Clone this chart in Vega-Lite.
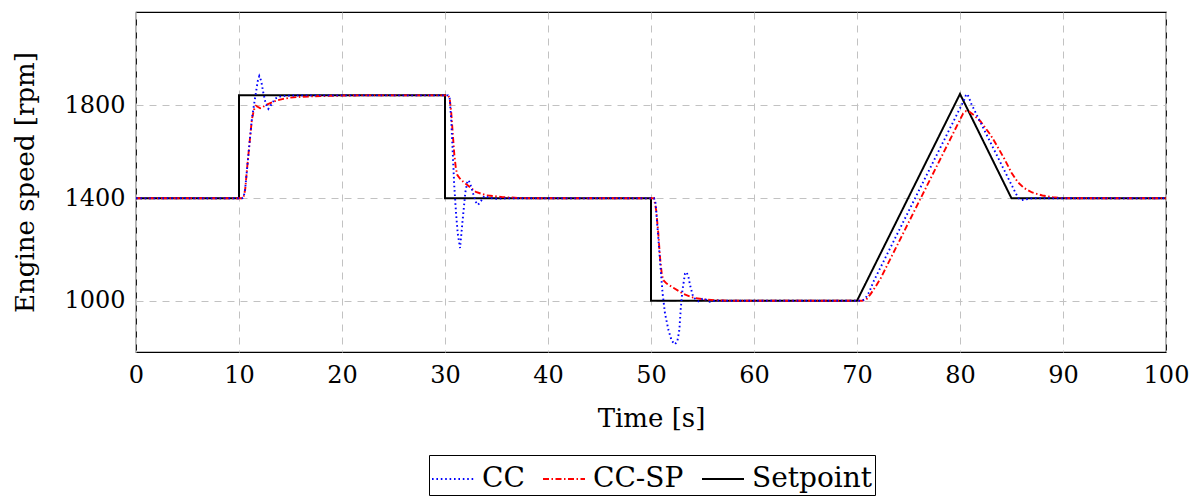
{
  "$schema": "https://vega.github.io/schema/vega-lite/v6.json",
  "width": 1030,
  "height": 340,
  "autosize": {"type": "none"},
  "padding": {"left": 136, "top": 12, "right": 30, "bottom": 146},
  "background": "white",
  "data": {"values": [
    {"s":"Setpoint","i":0,"t":0,"v":1400},{"s":"Setpoint","i":1,"t":10,"v":1400},{"s":"Setpoint","i":2,"t":10,"v":1842},{"s":"Setpoint","i":3,"t":30,"v":1842},{"s":"Setpoint","i":4,"t":30,"v":1400},{"s":"Setpoint","i":5,"t":50,"v":1400},{"s":"Setpoint","i":6,"t":50,"v":1000},{"s":"Setpoint","i":7,"t":70,"v":1000},{"s":"Setpoint","i":8,"t":80,"v":1848},{"s":"Setpoint","i":9,"t":85,"v":1400},{"s":"Setpoint","i":10,"t":100,"v":1400},

    {"s":"CC","i":0,"t":0,"v":1400},{"s":"CC","i":1,"t":10.3,"v":1400},{"s":"CC","i":2,"t":10.45,"v":1405},{"s":"CC","i":3,"t":10.6,"v":1440},{"s":"CC","i":4,"t":10.8,"v":1535},{"s":"CC","i":5,"t":11.05,"v":1650},{"s":"CC","i":6,"t":11.25,"v":1740},{"s":"CC","i":7,"t":11.45,"v":1800},{"s":"CC","i":8,"t":11.65,"v":1855},{"s":"CC","i":9,"t":11.8,"v":1900},{"s":"CC","i":10,"t":11.97,"v":1925},{"s":"CC","i":11,"t":12.15,"v":1905},{"s":"CC","i":12,"t":12.35,"v":1856},{"s":"CC","i":13,"t":12.6,"v":1805},{"s":"CC","i":14,"t":12.85,"v":1784},{"s":"CC","i":15,"t":13.1,"v":1800},{"s":"CC","i":16,"t":13.5,"v":1828},{"s":"CC","i":17,"t":14.1,"v":1839},{"s":"CC","i":18,"t":15,"v":1841},{"s":"CC","i":19,"t":16,"v":1842},
    {"s":"CC","i":20,"t":30.3,"v":1842},{"s":"CC","i":21,"t":30.45,"v":1830},{"s":"CC","i":22,"t":30.6,"v":1741},{"s":"CC","i":23,"t":30.75,"v":1597},{"s":"CC","i":24,"t":30.9,"v":1453},{"s":"CC","i":25,"t":31.07,"v":1343},{"s":"CC","i":26,"t":31.23,"v":1265},{"s":"CC","i":27,"t":31.46,"v":1206},{"s":"CC","i":28,"t":31.72,"v":1318},{"s":"CC","i":29,"t":31.97,"v":1424},{"s":"CC","i":30,"t":32.15,"v":1467},{"s":"CC","i":31,"t":32.3,"v":1478},{"s":"CC","i":32,"t":32.5,"v":1455},{"s":"CC","i":33,"t":32.7,"v":1424},{"s":"CC","i":34,"t":33.0,"v":1385},{"s":"CC","i":35,"t":33.2,"v":1374},{"s":"CC","i":36,"t":33.5,"v":1390},{"s":"CC","i":37,"t":33.82,"v":1410},{"s":"CC","i":38,"t":34.3,"v":1402},{"s":"CC","i":39,"t":35,"v":1398},{"s":"CC","i":40,"t":36,"v":1400},
    {"s":"CC","i":41,"t":50.3,"v":1400},{"s":"CC","i":42,"t":50.45,"v":1380},{"s":"CC","i":43,"t":50.6,"v":1302},{"s":"CC","i":44,"t":50.8,"v":1197},{"s":"CC","i":45,"t":50.97,"v":1106},{"s":"CC","i":46,"t":51.13,"v":1027},{"s":"CC","i":47,"t":51.36,"v":950},{"s":"CC","i":48,"t":51.7,"v":885},{"s":"CC","i":49,"t":52.0,"v":845},{"s":"CC","i":50,"t":52.3,"v":830},{"s":"CC","i":51,"t":52.55,"v":840},{"s":"CC","i":52,"t":52.75,"v":885},{"s":"CC","i":53,"t":52.9,"v":975},{"s":"CC","i":54,"t":53.05,"v":1040},{"s":"CC","i":55,"t":53.3,"v":1106},{"s":"CC","i":56,"t":53.46,"v":1112},{"s":"CC","i":57,"t":53.65,"v":1090},{"s":"CC","i":58,"t":53.8,"v":1060},{"s":"CC","i":59,"t":54.1,"v":1014},{"s":"CC","i":60,"t":54.6,"v":998},{"s":"CC","i":61,"t":55.1,"v":1010},{"s":"CC","i":62,"t":55.7,"v":996},{"s":"CC","i":63,"t":56.3,"v":1001},{"s":"CC","i":64,"t":57,"v":1000},
    {"s":"CC","i":65,"t":70.5,"v":1000},{"s":"CC","i":66,"t":70.8,"v":1008},{"s":"CC","i":67,"t":71.2,"v":1035},{"s":"CC","i":68,"t":71.6,"v":1075},{"s":"CC","i":69,"t":80.4,"v":1822},{"s":"CC","i":70,"t":80.55,"v":1840},{"s":"CC","i":71,"t":80.7,"v":1848},{"s":"CC","i":72,"t":80.85,"v":1835},{"s":"CC","i":73,"t":81.1,"v":1805},{"s":"CC","i":74,"t":85.45,"v":1418},{"s":"CC","i":75,"t":85.7,"v":1400},{"s":"CC","i":76,"t":86.0,"v":1393},{"s":"CC","i":77,"t":86.4,"v":1396},{"s":"CC","i":78,"t":87,"v":1400},{"s":"CC","i":79,"t":100,"v":1400},

    {"s":"CC-SP","i":0,"t":0,"v":1400},{"s":"CC-SP","i":1,"t":10.3,"v":1400},{"s":"CC-SP","i":2,"t":10.45,"v":1405},{"s":"CC-SP","i":3,"t":10.6,"v":1438},{"s":"CC-SP","i":4,"t":10.8,"v":1535},{"s":"CC-SP","i":5,"t":11.05,"v":1650},{"s":"CC-SP","i":6,"t":11.25,"v":1738},{"s":"CC-SP","i":7,"t":11.45,"v":1780},{"s":"CC-SP","i":8,"t":11.65,"v":1797},{"s":"CC-SP","i":9,"t":11.85,"v":1792},{"s":"CC-SP","i":10,"t":12.05,"v":1787},{"s":"CC-SP","i":11,"t":12.3,"v":1792},{"s":"CC-SP","i":12,"t":12.7,"v":1802},{"s":"CC-SP","i":13,"t":13.2,"v":1812},{"s":"CC-SP","i":14,"t":13.66,"v":1820},{"s":"CC-SP","i":15,"t":14.3,"v":1827},{"s":"CC-SP","i":16,"t":14.95,"v":1832},{"s":"CC-SP","i":17,"t":16,"v":1836},{"s":"CC-SP","i":18,"t":17.9,"v":1839},{"s":"CC-SP","i":19,"t":20,"v":1841},{"s":"CC-SP","i":20,"t":22,"v":1842},
    {"s":"CC-SP","i":21,"t":30.3,"v":1842},{"s":"CC-SP","i":22,"t":30.45,"v":1830},{"s":"CC-SP","i":23,"t":30.6,"v":1770},{"s":"CC-SP","i":24,"t":30.75,"v":1680},{"s":"CC-SP","i":25,"t":30.9,"v":1590},{"s":"CC-SP","i":26,"t":31.05,"v":1530},{"s":"CC-SP","i":27,"t":31.2,"v":1500},{"s":"CC-SP","i":28,"t":31.55,"v":1479},{"s":"CC-SP","i":29,"t":32.2,"v":1456},{"s":"CC-SP","i":30,"t":33.0,"v":1427},{"s":"CC-SP","i":31,"t":34.0,"v":1413},{"s":"CC-SP","i":32,"t":35.6,"v":1405},{"s":"CC-SP","i":33,"t":37.5,"v":1401},{"s":"CC-SP","i":34,"t":39,"v":1400},
    {"s":"CC-SP","i":35,"t":50.3,"v":1400},{"s":"CC-SP","i":36,"t":50.5,"v":1354},{"s":"CC-SP","i":37,"t":50.71,"v":1263},{"s":"CC-SP","i":38,"t":50.87,"v":1171},{"s":"CC-SP","i":39,"t":51.04,"v":1106},{"s":"CC-SP","i":40,"t":51.2,"v":1080},{"s":"CC-SP","i":41,"t":51.52,"v":1067},{"s":"CC-SP","i":42,"t":52.17,"v":1051},{"s":"CC-SP","i":43,"t":53.14,"v":1027},{"s":"CC-SP","i":44,"t":54.1,"v":1012},{"s":"CC-SP","i":45,"t":55.4,"v":1004},{"s":"CC-SP","i":46,"t":57,"v":1001},{"s":"CC-SP","i":47,"t":58,"v":1000},
    {"s":"CC-SP","i":48,"t":70.5,"v":1000},{"s":"CC-SP","i":49,"t":70.9,"v":1005},{"s":"CC-SP","i":50,"t":71.3,"v":1025},{"s":"CC-SP","i":51,"t":71.8,"v":1055},{"s":"CC-SP","i":52,"t":72.3,"v":1088},{"s":"CC-SP","i":53,"t":80.3,"v":1764},{"s":"CC-SP","i":54,"t":80.6,"v":1775},{"s":"CC-SP","i":55,"t":80.9,"v":1772},{"s":"CC-SP","i":56,"t":81.4,"v":1755},{"s":"CC-SP","i":57,"t":82,"v":1730},{"s":"CC-SP","i":58,"t":83,"v":1670},{"s":"CC-SP","i":59,"t":83.6,"v":1625},{"s":"CC-SP","i":60,"t":84.3,"v":1570},{"s":"CC-SP","i":61,"t":85,"v":1510},{"s":"CC-SP","i":62,"t":85.6,"v":1470},{"s":"CC-SP","i":63,"t":86.2,"v":1445},{"s":"CC-SP","i":64,"t":87,"v":1425},{"s":"CC-SP","i":65,"t":88,"v":1412},{"s":"CC-SP","i":66,"t":89,"v":1405},{"s":"CC-SP","i":67,"t":90,"v":1401},{"s":"CC-SP","i":68,"t":91,"v":1400},{"s":"CC-SP","i":69,"t":100,"v":1400}
  ]},
  "encoding": {
    "x": {"field": "t", "type": "quantitative", "title": "Time [s]",
      "scale": {"domain": [0, 100], "nice": false, "zero": false},
      "axis": {"values": [0,10,20,30,40,50,60,70,80,90,100], "labelPadding": 11, "titlePadding": 18, "labelFlush": false, "labelOverlap": false}},
    "y": {"field": "v", "type": "quantitative", "title": "Engine speed [rpm]",
      "scale": {"domain": [800, 1400, 2200], "range": [340, 186.3, 0], "nice": false, "zero": false},
      "axis": {"values": [1000, 1400, 1800], "labelPadding": 11, "titlePadding": 25, "format": "d", "labelFlush": false}},
    "color": {"field": "s", "type": "nominal", "title": null,
      "scale": {"domain": ["CC", "CC-SP", "Setpoint"], "range": ["#0000ff", "#ff0000", "#000000"]}},
    "strokeDash": {"field": "s", "type": "nominal", "title": null,
      "scale": {"domain": ["CC", "CC-SP", "Setpoint"], "range": [[1.6, 2.8], [6, 2.5, 1.5, 2.5], [1, 0]]}},
    "order": {"field": "i", "type": "quantitative"}
  },
  "layer": [
    {"transform": [{"filter": "datum.s === 'Setpoint'"}], "mark": {"type": "line", "strokeWidth": 2, "clip": true}},
    {"transform": [{"filter": "datum.s === 'CC-SP'"}], "mark": {"type": "line", "strokeWidth": 1.9, "clip": true}},
    {"transform": [{"filter": "datum.s === 'CC'"}], "mark": {"type": "line", "strokeWidth": 1.9, "clip": true}}
  ],
  "config": {
    "font": "DejaVu Serif",
    "view": {"stroke": "black", "strokeWidth": 1.2},
    "axis": {
      "labelFont": "DejaVu Serif", "labelFontSize": 24, "labelColor": "black",
      "titleFont": "DejaVu Serif", "titleFontSize": 26, "titleFontWeight": "normal", "titleColor": "black",
      "grid": true, "gridColor": "#c2c2c2", "gridDash": [7, 6], "gridWidth": 1,
      "domain": false, "ticks": false
    },
    "legend": {
      "orient": "none", "legendX": 293, "legendY": 443, "direction": "horizontal",
      "strokeColor": "black", "padding": 2, "fillColor": "white",
      "labelFont": "DejaVu Serif", "labelFontSize": 28, "labelColor": "black",
      "symbolType": "stroke", "symbolSize": 1764, "symbolStrokeWidth": 2,
      "columnPadding": 14, "labelOffset": 7
    }
  }
}
